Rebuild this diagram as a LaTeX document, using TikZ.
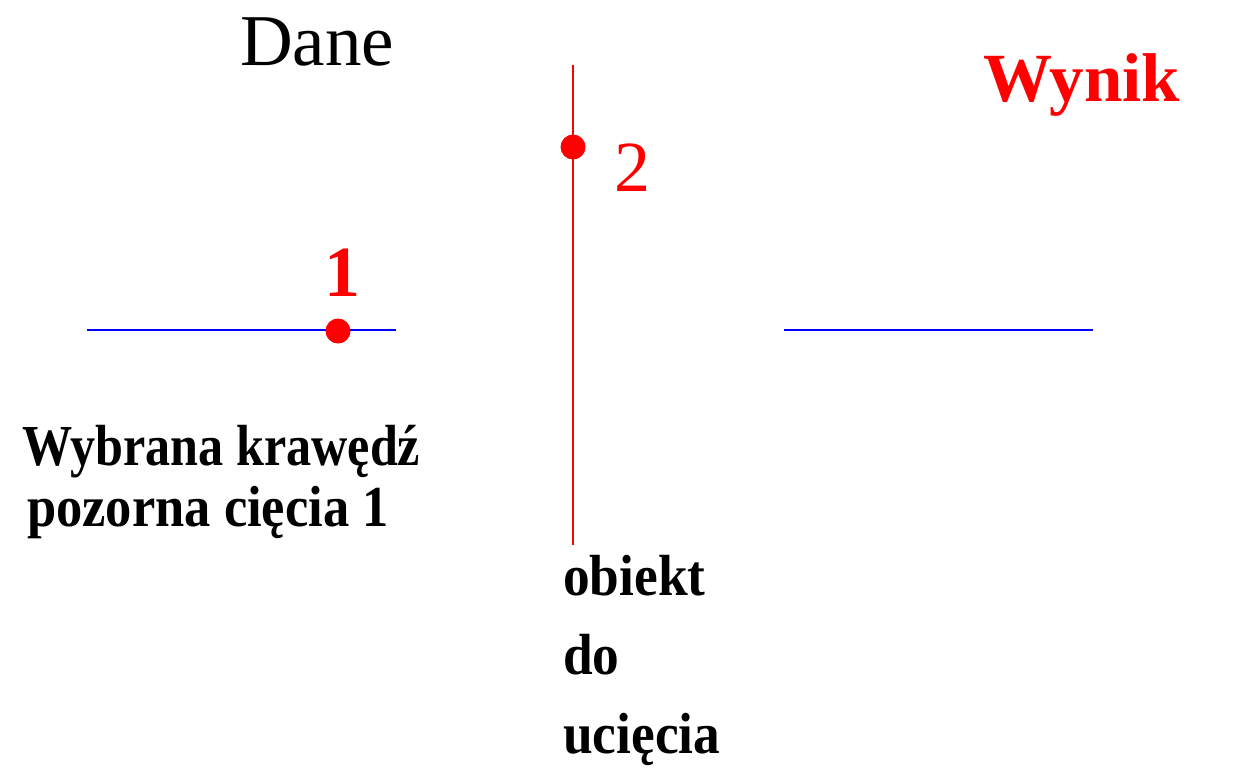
\documentclass[tikz,border=0pt]{standalone}
\usepackage{fontspec}
\setmainfont{Liberation Serif}
\begin{document}
\begin{tikzpicture}[x=1pt,y=-1pt,
  edge/.style={blue,line width=2pt},
  cut/.style={red,line width=2pt},
  pt/.style={circle,fill=red,inner sep=0pt,minimum size=25pt},
  lbl/.style={anchor=base west,inner sep=0pt,font=\fontsize{58}{79}\selectfont\bfseries},
  num/.style={anchor=base west,inner sep=0pt,text=red,font=\fontsize{72}{80}\selectfont}]
\useasboundingbox (0,0) rectangle (1257,772);
% titles
\node[anchor=base west,inner sep=0pt,font=\fontsize{73}{80}\selectfont] (dane) at (240,65) {Dane};
\node[anchor=base west,inner sep=0pt,text=red,font=\fontsize{69}{80}\selectfont\bfseries] (wynik) at (983,101) {Wynik};
% selected horizontal edge
\coordinate (e1a) at (87,330);
\coordinate (e1b) at (396,330);
\draw[edge] (e1a) -- (e1b);
\node[pt] (p1) at (338,331) {};
\node[num,font=\fontsize{72}{80}\selectfont\bfseries] (n1) at (324,296) {1};
% object to be cut
\coordinate (c1) at (573,65);
\coordinate (c2) at (573,545);
\draw[cut] (c1) -- (c2);
\node[pt] (p2) at (573,147) {};
\node[num] (n2) at (614,191) {2};
% result
\coordinate (e2a) at (784,330);
\coordinate (e2b) at (1093,330);
\draw[edge] (e2a) -- (e2b);
% captions
\node[lbl,xscale=0.865] (t1) at (22,465) {Wybrana krawędź};
\node[lbl,xscale=0.905] (t2) at (27,526) {pozorna cięcia 1};
\node[lbl,xscale=0.92] (o1) at (563,595) {obiekt};
\node[lbl,xscale=0.92] (o2) at (563,674) {do};
\node[lbl,xscale=0.92] (o3) at (563,753) {ucięcia};
\end{tikzpicture}
\end{document}
